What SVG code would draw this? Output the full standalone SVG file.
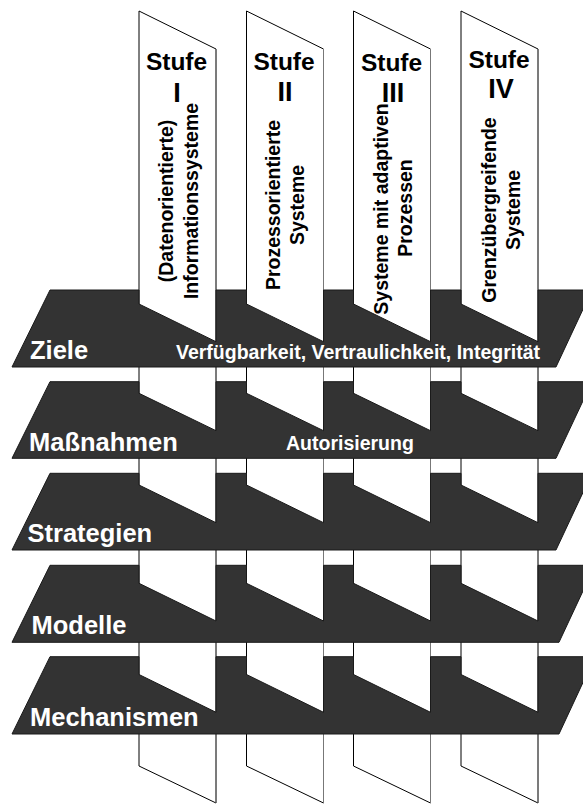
<svg xmlns="http://www.w3.org/2000/svg" width="583" height="804" viewBox="0 0 583 804">
<style>
text{font-family:"Liberation Sans",Arial,Helvetica,sans-serif;font-weight:bold}
.panel{fill:#fff;stroke:#000;stroke-width:1}
.redge{stroke:#777;stroke-width:1;fill:none}
.stufe{font-size:24.5px;fill:#000;text-anchor:middle}
.num{font-size:27px;fill:#000;text-anchor:middle}
.ptxt{font-size:19.5px;fill:#000;text-anchor:middle}
.plane{fill:#333;stroke:#1a1a1a;stroke-width:1}
.plabel{font-size:25.5px;fill:#fff}
.pinfo{font-size:19.5px;fill:#fff}
</style>
<rect width="583" height="804" fill="#fff"/>

<g id="stufe-1">
<polygon class="panel" points="139,11 216,49 216,803 139,766"/>
<line class="redge" x1="216" y1="49" x2="216" y2="803"/>
<text class="stufe" x="176.5" y="69.5">Stufe</text>
<text class="num" x="177" y="102">I</text>
<text class="ptxt" transform="translate(173,201) rotate(-90)">(Datenorientierte)</text>
<text class="ptxt" transform="translate(197.5,201) rotate(-90)">Informationssysteme</text>
</g>

<g id="stufe-2">
<polygon class="panel" points="246.5,11 323.5,49 323.5,803 246.5,766"/>
<line class="redge" x1="323.5" y1="49" x2="323.5" y2="803"/>
<text class="stufe" x="284" y="69.5">Stufe</text>
<text class="num" x="285" y="101">II</text>
<text class="ptxt" transform="translate(280,205) rotate(-90)">Prozessorientierte</text>
<text class="ptxt" transform="translate(304,205) rotate(-90)">Systeme</text>
</g>

<g id="stufe-3">
<polygon class="panel" points="353.5,11 430.5,49 430.5,803 353.5,766"/>
<line class="redge" x1="430.5" y1="49" x2="430.5" y2="803"/>
<text class="stufe" x="391.5" y="70.5">Stufe</text>
<text class="num" x="393" y="101.5">III</text>
<text class="ptxt" transform="translate(388,209) rotate(-90)">Systeme mit adaptiven</text>
<text class="ptxt" transform="translate(412,208) rotate(-90)">Prozessen</text>
</g>

<g id="stufe-4">
<polygon class="panel" points="461,11 538,49 538,803 461,766"/>
<line class="redge" x1="538" y1="49" x2="538" y2="803"/>
<text class="stufe" x="499" y="68">Stufe</text>
<text class="num" x="501" y="98">IV</text>
<text class="ptxt" transform="translate(495.5,210) rotate(-90)">Grenzübergreifende</text>
<text class="ptxt" transform="translate(519.5,210) rotate(-90)">Systeme</text>
</g>

<g id="ebene-ziele">
<path class="plane" d="M50,290 H139 V304 L216,341.7 V290 H246.5 V304 L323.5,341.7 V290 H353.5 V304 L430.5,341.7 V290 H461 V304 L538,341.7 V290 H592 L556,367 H12 Z"/>
<text class="plabel" x="30" y="359">Ziele</text>
<text class="pinfo" x="176" y="359">Verfügbarkeit, Vertraulichkeit, Integrität</text>
</g>

<g id="ebene-massnahmen">
<path class="plane" d="M50,381.7 H139 V393.3 L216,430.7 V381.7 H246.5 V393.3 L323.5,430.7 V381.7 H353.5 V393.3 L430.5,430.7 V381.7 H461 V393.3 L538,430.7 V381.7 H592 L556,458.3 H12 Z"/>
<text class="plabel" x="29" y="450.7">Maßnahmen</text>
<text class="pinfo" x="286" y="449.5">Autorisierung</text>
</g>

<g id="ebene-strategien">
<path class="plane" d="M50,473.3 H139 V485 L216,522.7 V473.3 H246.5 V485 L323.5,522.7 V473.3 H353.5 V485 L430.5,522.7 V473.3 H461 V485 L538,522.7 V473.3 H592 L556,550 H12 Z"/>
<text class="plabel" x="27.5" y="542.3">Strategien</text>
</g>

<g id="ebene-modelle">
<path class="plane" d="M50,565.3 H139 V583.3 L216,621 V565.3 H246.5 V583.3 L323.5,621 V565.3 H353.5 V583.3 L430.5,621 V565.3 H461 V583.3 L538,621 V565.3 H595 L559,642.3 H12 Z"/>
<text class="plabel" x="31.5" y="634">Modelle</text>
</g>

<g id="ebene-mechanismen">
<path class="plane" d="M50,656.7 H139 V674.5 L216,712.3 V656.7 H246.5 V674.5 L323.5,712.3 V656.7 H353.5 V674.5 L430.5,712.3 V656.7 H461 V674.5 L538,712.3 V656.7 H595 L559,734 H12 Z"/>
<text class="plabel" x="30" y="726">Mechanismen</text>
</g>
</svg>
